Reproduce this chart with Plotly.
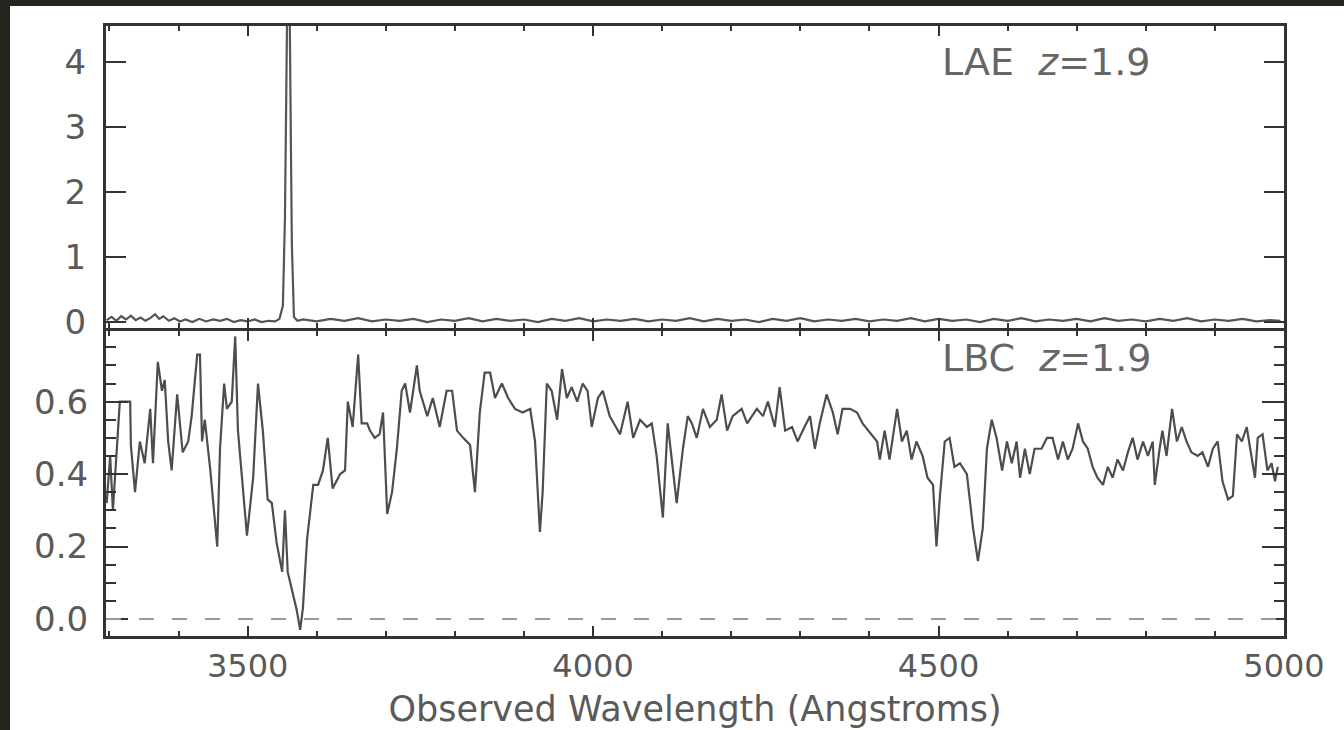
import plotly.graph_objects as go

# ---------------- data ----------------
# Top panel: LAE z=1.9 spectrum
lae_wave = [3296, 3303, 3310, 3317, 3324, 3331, 3338, 3345, 3352, 3359, 3366, 3372, 3378,
            3386, 3394, 3402, 3410, 3420, 3430, 3440, 3450, 3460, 3470, 3480, 3490, 3500,
            3510, 3520, 3530, 3540, 3546, 3551, 3554, 3557, 3561, 3564, 3567, 3572,
            3580, 3600, 3620, 3640, 3660, 3680, 3700, 3720, 3740, 3760, 3780, 3800,
            3820, 3840, 3860, 3880, 3900, 3920, 3940, 3960, 3980, 4000, 4020, 4040,
            4060, 4080, 4100, 4120, 4140, 4160, 4180, 4200, 4220, 4240, 4260, 4280,
            4300, 4320, 4340, 4360, 4380, 4400, 4420, 4440, 4460, 4480, 4500, 4520,
            4540, 4560, 4580, 4600, 4620, 4640, 4660, 4680, 4700, 4720, 4740, 4760,
            4780, 4800, 4820, 4840, 4860, 4880, 4900, 4920, 4940, 4960, 4980, 4995]
lae_flux = [0.03, 0.08, 0.02, 0.09, 0.04, 0.10, 0.03, 0.07, 0.02, 0.06, 0.12, 0.05, 0.09,
            0.02, 0.06, 0.01, 0.04, 0.00, 0.05, 0.01, 0.04, 0.02, 0.05, 0.00, 0.03, 0.01,
            0.04, 0.00, 0.02, 0.01, 0.05, 0.25, 1.60, 4.60, 4.60, 1.20, 0.08, 0.02,
            0.04, 0.01, 0.05, 0.02, 0.06, 0.01, 0.04, 0.02, 0.05, 0.00, 0.04, 0.02,
            0.06, 0.01, 0.05, 0.02, 0.04, 0.00, 0.05, 0.02, 0.06, 0.01, 0.04, 0.02,
            0.05, 0.01, 0.04, 0.02, 0.06, 0.01, 0.05, 0.02, 0.04, 0.00, 0.05, 0.02,
            0.06, 0.01, 0.04, 0.02, 0.05, 0.01, 0.04, 0.02, 0.06, 0.01, 0.05, 0.02,
            0.04, 0.00, 0.05, 0.02, 0.06, 0.01, 0.04, 0.02, 0.05, 0.01, 0.06, 0.02,
            0.04, 0.01, 0.05, 0.02, 0.06, 0.01, 0.04, 0.02, 0.05, 0.01, 0.03, 0.02]

# Bottom panel: LBC z=1.9 spectrum
lbc_wave = [3296, 3301, 3305, 3309, 3315, 3330, 3331, 3337, 3344, 3351, 3359, 3363, 3370,
            3376, 3380, 3385, 3390, 3398, 3399, 3406, 3414, 3419, 3427, 3431, 3434, 3438,
            3446, 3456, 3460, 3466, 3470, 3477, 3482, 3486, 3499, 3508, 3515, 3522, 3529,
            3535, 3542, 3550, 3554, 3558, 3571, 3576, 3580, 3586, 3595, 3602, 3609, 3616,
            3623, 3634, 3641, 3645, 3652, 3660, 3665, 3673, 3677, 3684, 3691, 3696, 3702,
            3709, 3716, 3723, 3728, 3735, 3745, 3749, 3760, 3768, 3778, 3788, 3796, 3803,
            3812, 3822, 3829, 3836, 3843, 3851, 3858, 3868, 3877, 3887, 3898, 3909, 3916,
            3923, 3927, 3933, 3940, 3948, 3955, 3962, 3969, 3977, 3985, 3992, 3998, 4007,
            4014, 4024, 4039, 4050, 4058, 4068, 4078, 4085, 4092, 4101, 4108, 4121, 4130,
            4137, 4143, 4150, 4159, 4169, 4179, 4186, 4194, 4202, 4215, 4223, 4237, 4246,
            4253, 4263, 4270, 4278, 4288, 4296, 4306, 4314, 4321, 4328, 4338, 4347, 4354,
            4361, 4372, 4382, 4390, 4403, 4411, 4415, 4422, 4429, 4440, 4447, 4454, 4461,
            4468, 4477, 4484, 4492, 4497, 4502, 4509, 4516, 4523, 4531, 4541, 4550, 4557,
            4564, 4570, 4577, 4584, 4592, 4599, 4606, 4613, 4618, 4625, 4632, 4639, 4649,
            4657, 4665, 4673, 4680, 4687, 4694, 4702, 4709, 4716, 4723, 4730, 4738, 4745,
            4752, 4759, 4767, 4774, 4781, 4788, 4796, 4803, 4810, 4813, 4820, 4824, 4830,
            4838, 4845, 4852, 4859, 4866, 4875, 4882, 4890, 4897, 4904, 4911, 4919, 4926,
            4932, 4939, 4946, 4953, 4958, 4962, 4969, 4976, 4982, 4987, 4991]
lbc_flux = [0.32, 0.45, 0.30, 0.42, 0.60, 0.60, 0.48, 0.35, 0.49, 0.43, 0.58, 0.43, 0.71,
            0.63, 0.66, 0.49, 0.41, 0.62, 0.60, 0.46, 0.49, 0.56, 0.73, 0.73, 0.49, 0.55,
            0.41, 0.20, 0.47, 0.65, 0.58, 0.60, 0.78, 0.52, 0.23, 0.39, 0.65, 0.52, 0.33,
            0.32, 0.21, 0.13, 0.30, 0.13, 0.025, -0.03, 0.03, 0.22, 0.37, 0.37, 0.41, 0.50,
            0.36, 0.40, 0.41, 0.60, 0.53, 0.73, 0.54, 0.54, 0.52, 0.50, 0.51, 0.57, 0.29,
            0.35, 0.47, 0.63, 0.65, 0.57, 0.70, 0.63, 0.56, 0.61, 0.53, 0.63, 0.63, 0.52,
            0.50, 0.48, 0.35, 0.57, 0.68, 0.68, 0.61, 0.65, 0.61, 0.58, 0.57, 0.58, 0.49,
            0.24, 0.35, 0.65, 0.63, 0.55, 0.69, 0.61, 0.64, 0.60, 0.65, 0.63, 0.53, 0.61,
            0.63, 0.56, 0.51, 0.60, 0.50, 0.55, 0.53, 0.54, 0.45, 0.28, 0.54, 0.32, 0.47,
            0.56, 0.54, 0.50, 0.58, 0.53, 0.55, 0.62, 0.52, 0.56, 0.58, 0.54, 0.58, 0.56,
            0.60, 0.53, 0.64, 0.52, 0.53, 0.49, 0.53, 0.56, 0.47, 0.54, 0.62, 0.57, 0.51,
            0.58, 0.58, 0.57, 0.54, 0.51, 0.49, 0.44, 0.52, 0.44, 0.58, 0.49, 0.52, 0.44,
            0.49, 0.45, 0.39, 0.37, 0.20, 0.34, 0.49, 0.50, 0.42, 0.43, 0.40, 0.25, 0.16,
            0.25, 0.47, 0.55, 0.50, 0.41, 0.49, 0.43, 0.49, 0.39, 0.47, 0.40, 0.47, 0.47,
            0.50, 0.50, 0.44, 0.49, 0.44, 0.47, 0.54, 0.49, 0.47, 0.42, 0.39, 0.37, 0.42,
            0.39, 0.44, 0.41, 0.46, 0.50, 0.44, 0.49, 0.45, 0.49, 0.37, 0.47, 0.52, 0.45,
            0.58, 0.49, 0.53, 0.49, 0.46, 0.45, 0.46, 0.42, 0.47, 0.49, 0.38, 0.33, 0.34,
            0.51, 0.49, 0.53, 0.45, 0.39, 0.50, 0.51, 0.41, 0.43, 0.38, 0.42]

x_ticks = [3500, 4000, 4500, 5000]
x_range = [3295, 5000]
top_y_ticks = [0, 1, 2, 3, 4]
top_y_range = [-0.09, 4.55]
bot_y_ticks = [0.0, 0.2, 0.4, 0.6]
bot_y_labels = ["0.0", "0.2", "0.4", "0.6"]
bot_y_range = [-0.047, 0.795]

label_top = "LAE  <i>z</i>=1.9"
label_bot = "LBC  <i>z</i>=1.9"
x_title = "Observed Wavelength (Angstroms)"

# ---------------- figure ----------------
W, H = 1344, 730
ML, MR, MT, MB = 106, 60, 26, 94
FONT = "DejaVu Sans"
TXT = "#5a5a5a"
FRAME = "#333333"

fig = go.Figure()
fig.add_trace(go.Scatter(x=lae_wave, y=lae_flux, mode="lines", xaxis="x2", yaxis="y2",
                         line=dict(color="#555555", width=2.2), showlegend=False))
fig.add_trace(go.Scatter(x=lbc_wave, y=lbc_flux, mode="lines", xaxis="x", yaxis="y",
                         line=dict(color="#4d4d4d", width=2.2), showlegend=False))

axis_common = dict(showline=True, linecolor=FRAME, linewidth=3, mirror="allticks",
                   ticks="inside", tickcolor=FRAME, showgrid=False, zeroline=False,
                   automargin=False,
                   tickfont=dict(family=FONT, size=34, color=TXT))

fig.update_layout(
    width=W, height=H, autosize=False,
    margin=dict(l=ML, r=MR, t=MT, b=MB),
    paper_bgcolor="white", plot_bgcolor="white",
    xaxis=dict(axis_common, domain=[0, 1], range=x_range, anchor="y",
               tickvals=x_ticks, ticktext=[str(v) for v in x_ticks], ticklen=10, tickwidth=2,
               tickfont=dict(family=FONT, size=32, color=TXT),
               minor=dict(ticks="inside", dtick=100, ticklen=5, tickcolor=FRAME, tickwidth=2),
               ticklabelstandoff=0,
               title=dict(text=x_title, font=dict(family=FONT, size=35, color=TXT), standoff=13)),
    xaxis2=dict(axis_common, domain=[0, 1], range=x_range, anchor="y2", matches="x",
                tickvals=x_ticks, showticklabels=False, ticklen=10, tickwidth=2,
                minor=dict(ticks="inside", dtick=100, ticklen=5, tickcolor=FRAME, tickwidth=2)),
    yaxis=dict(axis_common, domain=[0, 0.5], range=bot_y_range, anchor="x",
               tickvals=bot_y_ticks, ticktext=bot_y_labels, ticklen=22, tickwidth=2,
               minor=dict(ticks="inside", dtick=0.05, ticklen=10, tickcolor=FRAME, tickwidth=2),
               ticklabelstandoff=8),
    yaxis2=dict(axis_common, domain=[0.505, 1], range=top_y_range, anchor="x2",
                tickvals=top_y_ticks, ticktext=[str(v) for v in top_y_ticks], ticklen=20,
                tickwidth=2, ticklabelstandoff=10),
)

# zero reference line in lower panel
fig.add_shape(type="line", xref="x domain", yref="y", x0=0, x1=1, y0=0, y1=0,
              line=dict(color="#9a9a9a", width=2, dash="15px,18px"))

fig.add_annotation(x=4502, y=4.0, xref="x2", yref="y2", text=label_top, showarrow=False,
                   xanchor="left", yanchor="middle",
                   font=dict(family=FONT, size=38, color="#666666"))
fig.add_annotation(x=4502, y=0.72, xref="x", yref="y", text=label_bot, showarrow=False,
                   xanchor="left", yanchor="middle",
                   font=dict(family=FONT, size=38, color="#666666"))

# dark photographic border on the top and left edges of the picture
pw, ph = W - ML - MR, H - MT - MB
def px(xp):
    return (xp - ML) / pw
def py(yp):
    return (H - MB - yp) / ph
DARK = "#23251f"
fig.add_shape(type="rect", xref="paper", yref="paper", x0=px(0), x1=px(10), y0=py(H), y1=py(0),
              fillcolor=DARK, line=dict(width=0), layer="above")
fig.add_shape(type="rect", xref="paper", yref="paper", x0=px(0), x1=px(W), y0=py(6), y1=py(0),
              fillcolor=DARK, line=dict(width=0), layer="above")

fig.write_html("out.html", config={"displayModeBar": False},
               post_script="document.body.style.margin='0';")
